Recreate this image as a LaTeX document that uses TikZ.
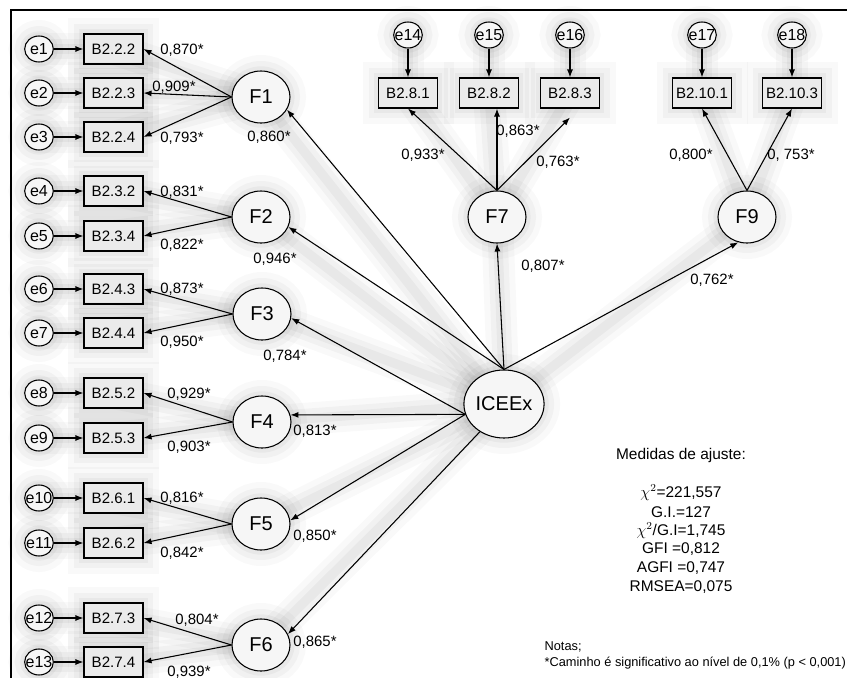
\documentclass[tikz,border=0pt]{standalone}
\usepackage{fontspec}
\setmainfont{Liberation Sans}
\usetikzlibrary{arrows.meta,shapes.geometric,calc}
\begin{document}
\begin{tikzpicture}[x=0.75pt,y=-0.75pt,
  every node/.style={inner sep=0pt},
  glow/.style={preaction={draw=black, opacity=0.025, line width=24pt},
               preaction={draw=black, opacity=0.03, line width=15pt},
               preaction={draw=black, opacity=0.035, line width=7pt}},
  halo/.style={preaction={draw, black, opacity=0.025, line width=24pt, line cap=round},
               preaction={draw, black, opacity=0.03, line width=15pt, line cap=round},
               preaction={draw, black, opacity=0.035, line width=7pt, line cap=round}},
  errn/.style={draw, ellipse, line width=0.8pt, minimum width=21.5pt, minimum height=19.5pt, fill=gray!7, font=\fontsize{12}{12}\selectfont, glow},
  obs/.style={draw, rectangle, line width=0.8pt, minimum width=44.25pt, minimum height=22.5pt, fill=gray!16, font=\fontsize{11.3}{11.3}\selectfont, glow},
  lat/.style={draw, ellipse, line width=0.8pt, minimum width=43.5pt, minimum height=39pt, fill=gray!7, font=\fontsize{15}{15}\selectfont, glow},
  lbl/.style={font=\fontsize{11.2}{11.2}\selectfont},
  fit/.style={font=\fontsize{11.6}{11.6}\selectfont},
  arr/.style={draw, line width=0.8pt, -{Latex[length=6pt,width=4.5pt]}},
]
\useasboundingbox (0,0) rectangle (847,678);
\fill[white] (0,0) rectangle (847,678);

% positions
\foreach \i/\y in {1/49, 2/93, 3/137, 4/191, 5/236, 6/289, 7/333, 8/393, 9/438, 10/498, 11/543, 12/618, 13/662}{
  \coordinate (pe\i) at (39,\y);
  \coordinate (pb\i) at (113.5,\y);
}
\foreach \i/\x in {14/408, 15/489, 16/570, 17/702, 18/792}{
  \coordinate (pe\i) at (\x,35);
  \coordinate (pb\i) at (\x,93);
}
\coordinate (pF1) at (261,97);
\coordinate (pF2) at (261,217);
\coordinate (pF3) at (262,314);
\coordinate (pF4) at (262,422);
\coordinate (pF5) at (261,524);
\coordinate (pF6) at (261,645);
\coordinate (pF7) at (497,217);
\coordinate (pF9) at (747,217);
\coordinate (pIC) at (504,404);

% soft haze under connectors
\foreach \i in {1,...,18}{ \path[halo] (pe\i) -- (pb\i); }
\foreach \f/\b in {F1/1,F1/2,F1/3,F2/4,F2/5,F3/6,F3/7,F4/8,F4/9,F5/10,F5/11,F6/12,F6/13,F7/14,F7/15,F7/16,F9/17,F9/18}{
  \path[halo] (p\f) -- (pb\b);
}
\foreach \f in {F1,F2,F3,F4,F5,F6,F7,F9}{ \path[halo] (pIC) -- (p\f); }

% frame
\draw[line width=0.9pt] (848,10) -- (11,10) -- (11,680);

% indicators
\foreach \i/\lab in {1/B2.2.2, 2/B2.2.3, 3/B2.2.4, 4/B2.3.2, 5/B2.3.4, 6/B2.4.3, 7/B2.4.4, 8/B2.5.2, 9/B2.5.3, 10/B2.6.1, 11/B2.6.2, 12/B2.7.3, 13/B2.7.4, 14/B2.8.1, 15/B2.8.2, 16/B2.8.3, 17/B2.10.1, 18/B2.10.3}{
  \node[errn] (e\i) at (pe\i) {\makebox[0pt]{e\i}};
  \node[obs] (b\i) at (pb\i) {\lab};
}

% latent factors
\foreach \f in {F1,F2,F3,F4,F5,F6,F7,F9}{ \node[lat] (\f) at (p\f) {\f}; }
\node[lat, minimum width=55.5pt, minimum height=51pt] (IC) at (pIC) {ICEEx};

% error arrows
\foreach \i in {1,...,18}{ \draw[arr] (e\i) -- (b\i); }

% loadings
\draw[arr] (F1.west) -- (b1.east);
\draw[arr] (F1.west) -- (b2.east);
\draw[arr] (F1.west) -- (b3.east);
\draw[arr] (F2.west) -- (b4.east);
\draw[arr] (F2.west) -- (b5.east);
\draw[arr] (F3.west) -- (b6.east);
\draw[arr] (F3.west) -- (b7.east);
\draw[arr] (F4.west) -- (b8.east);
\draw[arr] (F4.west) -- (b9.east);
\draw[arr] (F5.west) -- (b10.east);
\draw[arr] (F5.west) -- (b11.east);
\draw[arr] (F6.west) -- (b12.east);
\draw[arr] (F6.west) -- (b13.east);
\draw[arr] (F7.north) -- (b14.south);
\draw[arr] (F7.north) -- (F7.north |- b15.south);
\draw[arr] (F7.north) -- ($(b16.south)+(0,9)$);
\draw[arr] (F9.north) -- (b17.south);
\draw[arr] (F9.north) -- (b18.south);

% structural paths
\draw[arr] (IC.north) -- (F1.334);
\draw[arr] (IC.north) -- (F2.340);
\draw[arr] (IC.195) -- (F3.352);
\draw[arr] (IC.195) -- (F4.14);
\draw[arr] (IC.195) -- (F5.7);
\draw[arr] (IC.229) -- (F6.22);
\draw[arr] (IC.north) -- (F7.south);
\draw[arr] (IC.north) -- (F9.251);

% loading labels
\node[lbl] at (182,50) {0,870*};
\node[lbl] at (174,87) {0,909*};
\node[lbl] at (182,138) {0,793*};
\node[lbl] at (269,137) {0,860*};
\node[lbl] at (182,192) {0,831*};
\node[lbl] at (182,245) {0,822*};
\node[lbl] at (275,259) {0,946*};
\node[lbl] at (182,289) {0,873*};
\node[lbl] at (182,342) {0,950*};
\node[lbl] at (285,356) {0,784*};
\node[lbl] at (189,394) {0,929*};
\node[lbl] at (189,447) {0,903*};
\node[lbl] at (315,431) {0,813*};
\node[lbl] at (182,498) {0,816*};
\node[lbl] at (182,553) {0,842*};
\node[lbl] at (315,536) {0,850*};
\node[lbl] at (197,620) {0,804*};
\node[lbl] at (189,672) {0,939*};
\node[lbl] at (315,642) {0,865*};
\node[lbl] at (423,155) {0,933*};
\node[lbl] at (518,131) {0,863*};
\node[lbl] at (558,162) {0,763*};
\node[lbl] at (543,266) {0,807*};
\node[lbl] at (712,280) {0,762*};
\node[lbl] at (691,155) {0,800*};
\node[lbl] at (791,155) {0, 753*};

% fit measures
\node[fit] at (681,455) {Medidas de ajuste:};
\node[fit] at (681,493) {$\chi^2$=221,557};
\node[fit] at (681,512) {G.I.=127};
\node[fit] at (681,531) {$\chi^2$/G.I=1,745};
\node[fit] at (681,549) {GFI =0,812};
\node[fit] at (681,568) {AGFI =0,747};
\node[fit] at (681,587) {RMSEA=0,075};

% notes
\node[anchor=west, font=\fontsize{9.6}{9.6}\selectfont, inner sep=1pt] at (543,647) {Notas;};
\node[anchor=west, font=\fontsize{9.6}{9.6}\selectfont, inner sep=1pt] at (543,663) {*Caminho é significativo ao nível de 0,1\% (p < 0,001)};
\end{tikzpicture}
\end{document}
